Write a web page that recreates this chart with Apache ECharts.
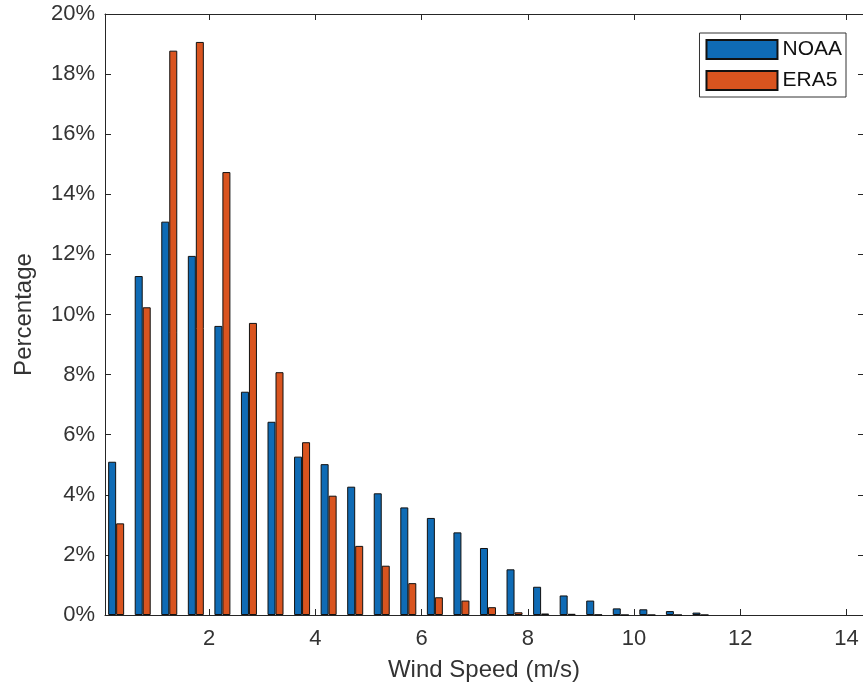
<!DOCTYPE html>
<html>
<head>
<meta charset="utf-8">
<title>Wind speed distribution</title>
<script src="https://cdn.jsdelivr.net/npm/echarts@6/dist/echarts.min.js"></script>
<style>
  html, body { margin: 0; padding: 0; background: #fff; }
  #chart { width: 863px; height: 694px; }
</style>
</head>
<body>
<div id="chart"></div>
<script>
// Histogram bin centres (m/s), 0.5 m/s wide bins
const binCenters = [0.25, 0.75, 1.25, 1.75, 2.25, 2.75, 3.25, 3.75, 4.25, 4.75, 5.25, 5.75,
                    6.25, 6.75, 7.25, 7.75, 8.25, 8.75, 9.25, 9.75, 10.25, 10.75, 11.25];

// Share of observations per bin (%)
const noaaValues = [5.10, 11.28, 13.09, 11.95, 9.62, 7.43, 6.43, 5.27, 5.02, 4.27, 4.05, 3.58,
                    3.23, 2.75, 2.23, 1.52, 0.94, 0.65, 0.48, 0.22, 0.19, 0.13, 0.08];
const era5Values = [3.05, 10.24, 18.78, 19.07, 14.74, 9.72, 8.08, 5.75, 3.97, 2.30, 1.64, 1.06,
                    0.59, 0.48, 0.26, 0.09, 0.05, 0.04, 0.01, 0, 0, 0, 0];

const seriesNames = ['NOAA', 'ERA5'];
const xTickValues = [2, 4, 6, 8, 10, 12, 14];
const xAxisTitle = 'Wind Speed (m/s)';
const yAxisTitle = 'Percentage';

const toPairs = vals => binCenters.map((x, i) => [x, vals[i]]);

const FONT = '"Liberation Sans", Arial, Helvetica, sans-serif';
const AXIS_COLOR = '#262626';
const TEXT_COLOR = '#333333';

const chart = echarts.init(document.getElementById('chart'), null, { renderer: 'canvas' });

const xRange = { min: 0.04, max: 14.31 };

chart.setOption({
  animation: false,
  backgroundColor: '#ffffff',
  textStyle: { fontFamily: FONT },
  grid: { left: 105, right: -1, top: 14, bottom: 79 },
  legend: {
    data: seriesNames,
    orient: 'vertical',
    right: 17,
    top: 33,
    itemWidth: 71,
    itemHeight: 19,
    itemGap: 10,
    padding: [6, 4, 6, 6],
    borderColor: '#333',
    borderWidth: 1,
    backgroundColor: '#fff',
    icon: 'rect',
    textStyle: { fontFamily: FONT, fontSize: 21, color: '#111', padding: [0, 0, 0, 0] }
  },
  xAxis: [
    {
      type: 'value',
      position: 'bottom',
      min: xRange.min,
      max: xRange.max,
      name: xAxisTitle,
      nameLocation: 'middle',
      nameGap: 43,
      nameTextStyle: { fontFamily: FONT, fontSize: 24, color: TEXT_COLOR },
      axisLine: { show: true, onZero: false, lineStyle: { color: AXIS_COLOR, width: 1 } },
      axisTick: { show: true, inside: true, length: 6, customValues: xTickValues,
                  lineStyle: { color: AXIS_COLOR } },
      axisLabel: { customValues: xTickValues, fontFamily: FONT, fontSize: 22,
                   color: TEXT_COLOR, margin: 13 },
      splitLine: { show: false }
    },
    {
      type: 'value',
      position: 'top',
      min: xRange.min,
      max: xRange.max,
      axisLine: { show: true, onZero: false, lineStyle: { color: AXIS_COLOR, width: 1 } },
      axisTick: { show: true, inside: true, length: 6, customValues: xTickValues,
                  lineStyle: { color: AXIS_COLOR } },
      axisLabel: { show: false },
      splitLine: { show: false }
    }
  ],
  yAxis: [
    {
      type: 'value',
      position: 'left',
      min: 0,
      max: 20,
      interval: 2,
      name: yAxisTitle,
      nameLocation: 'middle',
      nameGap: 69,
      nameTextStyle: { fontFamily: FONT, fontSize: 24, color: TEXT_COLOR },
      axisLine: { show: true, onZero: false, lineStyle: { color: AXIS_COLOR, width: 1 } },
      axisTick: { show: true, inside: true, length: 6, lineStyle: { color: AXIS_COLOR } },
      axisLabel: { formatter: '{value}%', fontFamily: FONT, fontSize: 22,
                   color: TEXT_COLOR, margin: 10 },
      splitLine: { show: false }
    },
    {
      // right-hand frame edge sits just past the canvas; only its inward ticks show
      type: 'value',
      position: 'right',
      min: 0,
      max: 20,
      interval: 2,
      axisLine: { show: false },
      axisTick: { show: true, inside: true, length: 5, lineStyle: { color: AXIS_COLOR } },
      axisLabel: { show: false },
      splitLine: { show: false }
    }
  ],
  series: [
    {
      name: seriesNames[0],
      type: 'bar',
      xAxisIndex: 0,
      yAxisIndex: 0,
      data: toPairs(noaaValues),
      barWidth: 8,
      barGap: '0%',
      itemStyle: { color: '#0f6bb5', borderColor: '#111', borderWidth: 1 }
    },
    {
      name: seriesNames[1],
      type: 'bar',
      xAxisIndex: 0,
      yAxisIndex: 0,
      data: toPairs(era5Values),
      barWidth: 8,
      barGap: '0%',
      itemStyle: { color: '#d9541f', borderColor: '#111', borderWidth: 1 }
    }
  ]
});
</script>
</body>
</html>
